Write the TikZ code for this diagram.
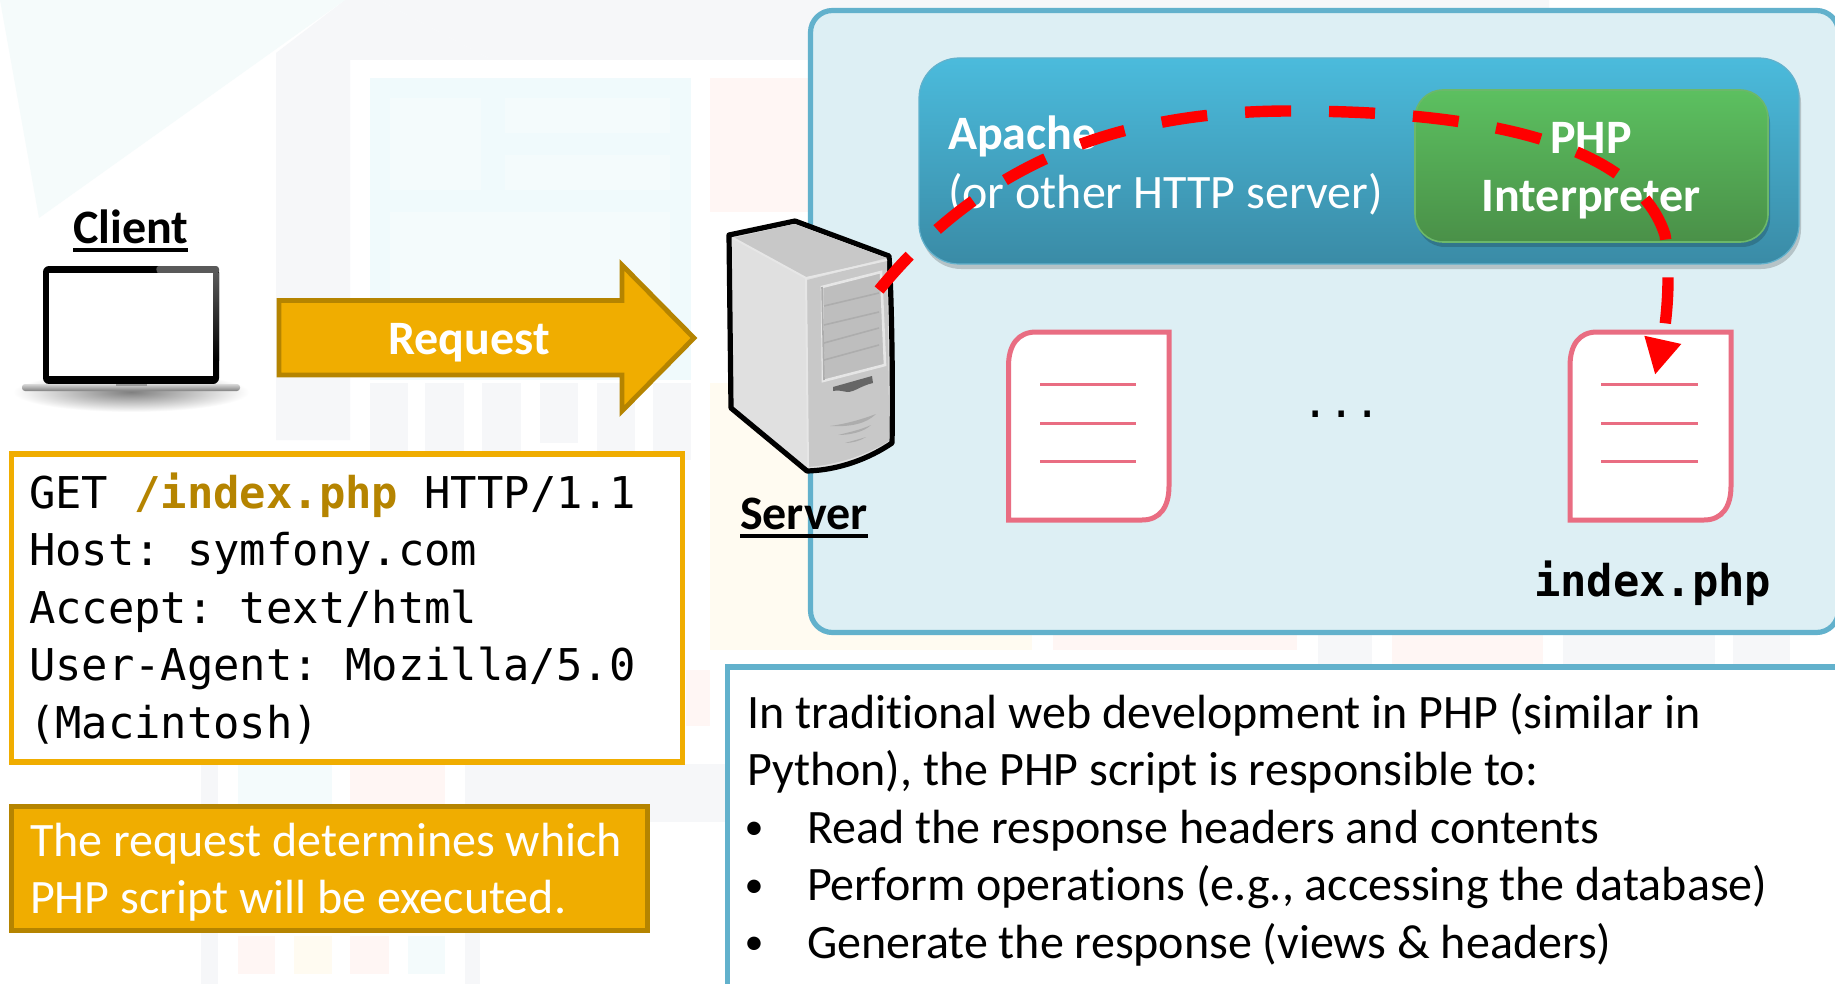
\documentclass[tikz,border=0pt]{standalone}
\usepackage{fontspec}
\setmainfont{Carlito}[Ligatures=NoCommon]
\newfontfamily\codefont{DejaVu Sans Mono}
\usetikzlibrary{arrows.meta,shadows}
\definecolor{tealline}{HTML}{62B1CC}
\definecolor{pale}{HTML}{DDEFF4}
\definecolor{amber}{HTML}{F0AD00}
\definecolor{amberdk}{HTML}{B58400}
\definecolor{pinkline}{HTML}{E96D82}
\definecolor{bggrey}{HTML}{F6F7F9}
\definecolor{bgblue}{HTML}{F0FAFC}
\definecolor{bgblue2}{HTML}{F4FBFC}
\definecolor{bgred}{HTML}{FFF6F4}
\definecolor{bgyellow}{HTML}{FFFBF1}
\definecolor{bgtri}{HTML}{F5FBFB}
\definecolor{rackdk}{HTML}{C8C8C8}
\definecolor{racklt}{HTML}{E0E0E0}
\definecolor{apachetop}{HTML}{4BBBDC}
\definecolor{apachebot}{HTML}{3A8BA6}
\definecolor{phptop}{HTML}{5CC060}
\definecolor{phpbot}{HTML}{4A9048}
\definecolor{phpedge}{HTML}{6CB86A}
\newcommand{\bodyfont}{\fontsize{24}{28.75}\selectfont\frenchspacing}
\newcommand{\monofont}{\fontsize{21.9}{28.75}\selectfont\codefont\frenchspacing}
\newcommand{\itemdot}{\hbox to 30pt{\hskip-1.2pt\raise1.6pt\hbox{\fontsize{19}{19}\selectfont •}\hfil}}
\tikzset{
  txt/.style={anchor=base west,inner sep=0pt,outer sep=0pt},
  body/.style={txt,font=\bodyfont},
  strong/.style={inner sep=0pt,outer sep=0pt,font=\bodyfont\bfseries},
  code/.style={txt,font=\monofont},
  box/.style={anchor=north west,inner sep=0pt,outer sep=0pt},
  docshape/.style={draw=pinkline,fill=white,line width=2.5pt,miter limit=4},
  docline/.style={draw=pinkline,line width=1.5pt},
  softshadow/.style={drop shadow={shadow xshift=1pt,shadow yshift=-2.5pt,opacity=.18,fill=black}},
}
\begin{document}
\begin{tikzpicture}[x=0.5pt,y=-0.5pt]
\useasboundingbox (0,0) rectangle (1835,984);
\clip (0,0) rectangle (1835,984);
% faint background
\fill[white] (0,0) rectangle (1835,984);
\fill[bggrey] (379,0) -- (1549,0) -- (1549,60) -- (492,60) -- cycle;
\fill[bggrey] (379,0) -- (492,60) -- (350,60) -- (350,440) -- (276,440) -- (276,53) -- (345,0) -- cycle;
\fill[bgtri] (0,0) -- (345,0) -- (39,218) -- cycle;
\fill[bgblue] (370,78) rectangle (691,380);
\fill[bgblue2] (390,98) rectangle (481,190) (505,98) rectangle (670,133) (505,155) rectangle (670,190) (390,212) rectangle (670,350);
\fill[bgred] (710,78) rectangle (830,212);
\fill[bgyellow] (710,383) rectangle (830,650);
\foreach \a/\b in {370/408,425/464,482/521,597/635,653/691} \fill[bggrey] (\a,383) rectangle (\b,460);
\fill[bggrey] (540,383) rectangle (578,443);
\fill[bggrey] (201,764) rectangle (218,984);
\fill[bgblue2] (238,764) rectangle (332,804);
\fill[bgred] (350,764) rectangle (445,804);
\fill[bggrey] (465,764) rectangle (727,822);
\fill[bggrey] (465,930) rectangle (480,984);
\fill[bgred] (238,936) rectangle (275,974);
\fill[bgyellow] (294,936) rectangle (332,974);
\fill[bgred] (350,936) rectangle (389,974);
\fill[bgblue2] (408,936) rectangle (445,974);
\fill[bgred] (686,670) rectangle (710,726);
\fill[bgyellow] (711,634) rectangle (1032,650);
\fill[bgred] (1053,634) rectangle (1297,650);
\fill[bggrey] (1318,634) rectangle (1372,668);
\fill[bgred] (1392,634) rectangle (1543,668);
\fill[bggrey] (1563,634) rectangle (1715,668);
\fill[bggrey] (1733,634) rectangle (1790,668);

% outer server panel
\node[box,draw=tealline,fill=pale,line width=2.6pt,rounded corners=11pt,minimum width=514pt,minimum height=311pt] (panel) at (810.5,10.5) {};
% explanation box
\node[box,draw=tealline,fill=white,line width=2.6pt,minimum width=560pt,minimum height=200pt] (note) at (727.5,667) {};
% Apache
\node[box,draw=tealline,top color=apachetop,bottom color=apachebot,line width=0.6pt,rounded corners=20pt,minimum width=440pt,minimum height=103pt,softshadow] (apache) at (919,58) {};
\node[box,draw=phpedge,top color=phptop,bottom color=phpbot,line width=0.8pt,rounded corners=14pt,minimum width=176.5pt,minimum height=76pt,softshadow] (php) at (1415,90) {};
\node[strong,anchor=base west,text=white] (apachename) at (948,149.5) {Apache};
\node[body,text=white] (apacheother) at (948,208.5) {(or other HTTP server)};
\node[strong,anchor=base,text=white] (phpa) at (1591,153.5) {PHP};
\node[strong,anchor=base,text=white] (phpb) at (1591,211.5) {Interpreter};

% documents
\draw[docshape] (1008.5,520) -- (1008.5,366) .. controls (1008.5,345) and (1018,332) .. (1036,332) -- (1169,332) -- (1169,486) .. controls (1169,507) and (1160,520) .. (1142,520) -- cycle;
\draw[docshape] (1570,520) -- (1570,366) .. controls (1570,345) and (1579,332) .. (1597,332) -- (1731,332) -- (1731,486) .. controls (1731,507) and (1722,520) .. (1704,520) -- cycle;
\foreach \yy in {384,423,461} {
  \draw[docline] (1040,\yy) -- (1136,\yy);
  \draw[docline] (1601,\yy) -- (1698,\yy);
}
\node[code] (dots) at (1302,417) {...};
\node[code,font=\monofont\bfseries] (indexphp) at (1534,596) {index.php};

% laptop
\shade[inner color=black!50,outer color=white] (131,392) ellipse [x radius=118,y radius=20];
\fill[black,rounded corners=3pt] (43,384) -- (43,266) -- (219,266) -- (219,384) -- cycle;
\fill[black!65,rounded corners=1.5pt] (156,266) -- (219,266) -- (219,274) -- (157,274) -- cycle;
\shade[top color=black!65,bottom color=black] (213,273) rectangle (219,360);
\fill[white] (49,273) rectangle (213,376);
\shade[top color=black!15,bottom color=black!50,rounded corners=1.5pt] (22,384) rectangle (240,391);
\fill[black!40] (116,384) rectangle (147,386);
\node[strong,anchor=base west] (client) at (73,243.5) {Client};
\draw[line width=1.8pt] (client.base west |- 0,250) -- (client.base east |- 0,250);

% request arrow
\draw[draw=amberdk,fill=amber,line width=2.4pt,miter limit=10] (279,300.5) -- (622,300.5) -- (622,265) -- (694,338) -- (622,411) -- (622,375) -- (279,375) -- cycle;
\node[strong,anchor=base,text=white] (request) at (469,354.5) {Request};

% server
\filldraw[draw=black,line width=2.6pt,line join=round,fill=racklt] (729,235) -- (795,221) -- (889,256) .. controls (892,300) and (893,400) .. (892,443) .. controls (870,458) and (840,470) .. (807,471) -- (731,408) -- cycle;
\fill[rackdk] (733,238) -- (794,224) -- (887,258) -- (807,278) -- cycle;
\fill[rackdk] (807,280) -- (887,260) .. controls (888,330) and (889,400) .. (889,441) .. controls (865,456) and (835,465) .. (808,467) -- cycle;
\draw[racklt!80!white,line width=1pt] (733,238) -- (806,278) -- (887,260) (806,278) -- (808,467);
\filldraw[draw=racklt!80!white,fill=rackdk!95!black,line width=1.3pt] (822,287) -- (881,272) -- (885,365) -- (823,381) -- cycle;
\foreach \ya/\yb in {306/293,325/312,343/328,360/345} \draw[black!32,line width=0.8pt] (824,\ya) -- (879,\yb);
\draw[black!32,line width=.8pt] (822,287) -- (824,380);
\fill[black!60] (833,387) -- (872,376) -- (873,383) .. controls (860,386) and (855,392) .. (847,392) .. controls (842,391) and (838,390) .. (833,391) -- cycle;
\fill[black!32] (830,426) .. controls (850,427) and (866,424) .. (876,414) .. controls (860,420) and (845,424) .. (830,426) -- cycle;
\fill[black!32] (838,435) .. controls (850,435) and (864,432) .. (871,425) .. controls (860,430) and (850,432) .. (838,435) -- cycle;
\fill[black!32] (845,443) .. controls (852,443) and (860,441) .. (866,437) .. controls (860,439) and (852,441) .. (845,443) -- cycle;
\node[strong,anchor=base west] (server) at (740,529.5) {Server};
\draw[line width=1.8pt] (server.base west |- 0,536) -- (server.base east |- 0,536);

% request box
\node[box,draw=amber,fill=white,line width=2.6pt,minimum width=335.5pt,minimum height=154pt] (reqbox) at (11.5,454) {};
\node[code] (reqtext) at (29,508) {\vtop{\baselineskip=28.75pt
  \hbox{GET {\color{amberdk}\bfseries /index.php} HTTP/1.1}
  \hbox{Host: symfony.com}
  \hbox{Accept: text/html}
  \hbox{User-Agent: Mozilla/5.0}
  \hbox{(Macintosh)}}};
% orange box
\node[box,draw=amberdk,fill=amber,line width=2.6pt,minimum width=318pt,minimum height=62pt] (which) at (11.5,806.5) {};
\node[body,text=white] (whichtext) at (30,856) {\vtop{\baselineskip=28.75pt
  \hbox{The request determines which}
  \hbox{PHP script will be executed.}}};
% explanation
\node[body] (notetext) at (747,728) {\vtop{\baselineskip=28.75pt
  \hbox{In traditional web development in PHP (similar in}
  \hbox{Python), the PHP script is responsible to:}
  \hbox{\itemdot Read the response headers and contents}
  \hbox{\itemdot Perform operations (e.g., accessing the database)}
  \hbox{\itemdot Generate the response (views \& headers)}}};

% request path
\coordinate (flowstart) at (879,290);
\coordinate (flowtop) at (1290,111);
\coordinate (flowturn) at (1665,235);
\coordinate (flowend) at (1655,375);
\draw[red,line width=5.7pt,dash pattern=on 23pt off 19pt,-{Triangle[length=18pt,width=17.5pt]}]
  (flowstart) .. controls (979,168) and (1110,111) .. (flowtop)
  .. controls (1420,111) and (1630,125) .. (flowturn)
  .. controls (1672,280) and (1665,330) .. (flowend);
\end{tikzpicture}
\end{document}
